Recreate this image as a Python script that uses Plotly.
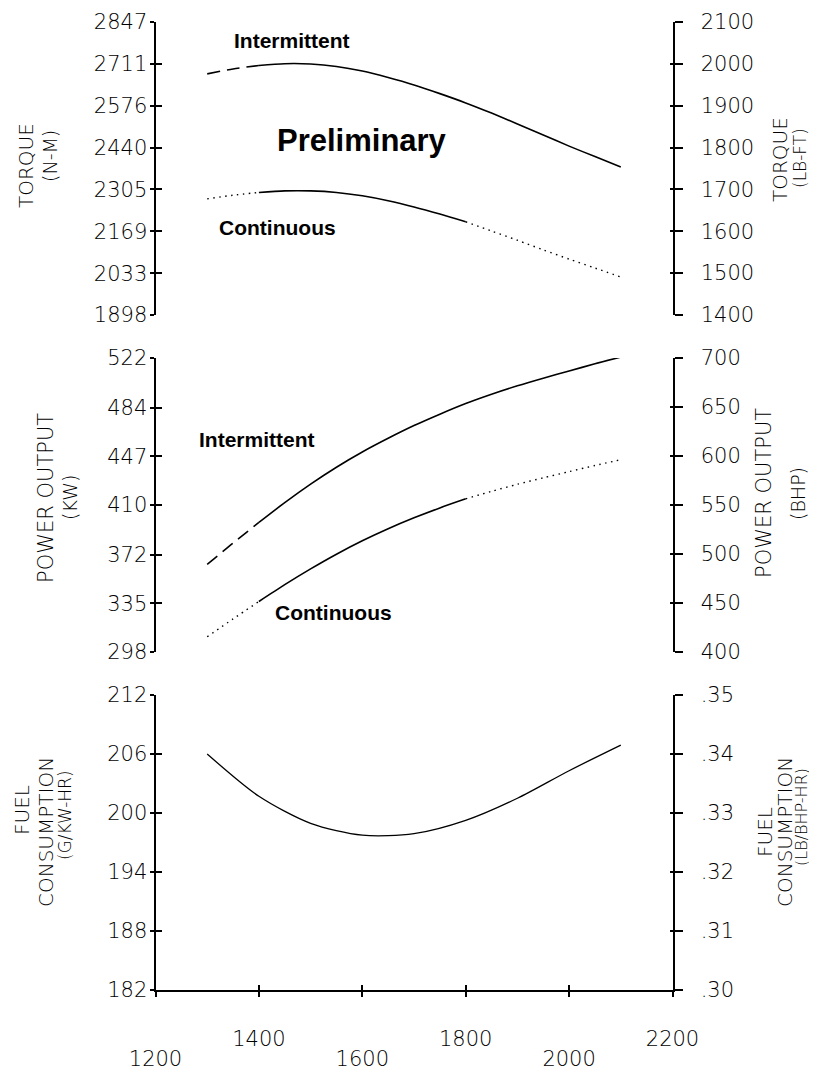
import plotly.graph_objects as go

# ---------------- data ----------------
rpm = [1300, 1350, 1400, 1450, 1500, 1550, 1600, 1650, 1700,
       1750, 1800, 1850, 1900, 1950, 2000, 2050, 2100]

torque_int_nm = [2679, 2695, 2706, 2712, 2711, 2703, 2688, 2667, 2643,
                 2615, 2585, 2552, 2517, 2481, 2445, 2411, 2377]
torque_cont_nm = [2274, 2286, 2295, 2300, 2300, 2295, 2284, 2268, 2248,
                  2225, 2200, 2170, 2140, 2109, 2079, 2050, 2021]

power_int_kw = [364.7, 381.0, 396.7, 411.8, 425.9, 438.8, 450.4, 460.8, 470.5,
                479.2, 487.3, 494.4, 500.8, 506.6, 512.1, 517.6, 522.7]
power_cont_kw = [309.6, 323.2, 336.5, 349.3, 361.3, 372.5, 382.7, 391.9, 400.2,
                 407.8, 414.7, 420.4, 425.8, 430.7, 435.4, 440.1, 444.5]

fuel_rpm = [1300, 1400, 1500, 1600, 1700, 1800, 1900, 2000, 2100]
fuel_g_kwh = [206.0, 201.7, 198.95, 197.75, 197.9, 199.25, 201.5, 204.3, 206.9]

solid_start = 1400      # start of rated (solid) section
cont_solid_end = 1800   # end of solid section for continuous curves

rpm_ticks = [1200, 1400, 1600, 1800, 2000, 2200]
torque_nm_ticks = [1898, 2033, 2169, 2305, 2440, 2576, 2711, 2847]
torque_lbft_ticks = [1400, 1500, 1600, 1700, 1800, 1900, 2000, 2100]
power_kw_ticks = [298, 335, 372, 410, 447, 484, 522]
power_bhp_ticks = [400, 450, 500, 550, 600, 650, 700]
fuel_g_ticks = [182, 188, 194, 200, 206, 212]
fuel_lb_ticks = [0.30, 0.31, 0.32, 0.33, 0.34, 0.35]
fuel_lb_labels = [".30", ".31", ".32", ".33", ".34", ".35"]

# ---------------- geometry helpers ----------------
# the page has an 8px body margin, so the figure is sized/offset to fill the window
OFF = 8
W, H = 817 - OFF, 1072 - OFF
def fx(px):
    return (px - OFF) / W
def fy(py):
    return 1 - (py - OFF) / H

XDOM = [fx(155.5), fx(672.5)]
PANELS = [(22, 315), (358, 652), (695, 990)]
def ydom(i):
    t, b = PANELS[i]
    return [fy(b), fy(t)]

THIN = "DejaVu Sans ExtraLight, DejaVu Sans Light, DejaVu Sans"
TICKFONT = dict(family=THIN, size=21, color="black", weight=200)
DASH_INT = "13px,7px"
DOT = "1.5px,4.5px"

def seg(xs, ys, lo, hi):
    px_, py_ = [], []
    for a, b in zip(xs, ys):
        if lo <= a <= hi:
            px_.append(a)
            py_.append(b)
    return px_, py_

fig = go.Figure()

def add_line(xs, ys, xa, ya, dash="solid", width=1.6):
    fig.add_trace(go.Scatter(x=xs, y=ys, xaxis=xa, yaxis=ya, mode="lines",
                             line=dict(color="black", width=width, dash=dash,
                                       shape="spline", smoothing=0.8),
                             showlegend=False, hoverinfo="skip"))

def add_pair(int_vals, cont_vals, xa, ya):
    x, y = seg(rpm, int_vals, rpm[0], solid_start)
    add_line(x, y, xa, ya, DASH_INT)
    x, y = seg(rpm, int_vals, solid_start, rpm[-1])
    add_line(x, y, xa, ya)
    x, y = seg(rpm, cont_vals, rpm[0], solid_start)
    add_line(x, y, xa, ya, DOT, 1.4)
    x, y = seg(rpm, cont_vals, solid_start, cont_solid_end)
    add_line(x, y, xa, ya)
    x, y = seg(rpm, cont_vals, cont_solid_end, rpm[-1])
    add_line(x, y, xa, ya, DOT, 1.4)

add_pair(torque_int_nm, torque_cont_nm, "x", "y")
add_pair(power_int_kw, power_cont_kw, "x2", "y5")
add_line(fuel_rpm, fuel_g_kwh, "x3", "y9", width=1.3)

# empty traces so every overlay axis is drawn
for xa, ya in [("x", "y2"), ("x", "y3"), ("x", "y4"),
               ("x2", "y6"), ("x2", "y7"), ("x2", "y8"),
               ("x3", "y10"), ("x3", "y11"), ("x3", "y12"), ("x4", "y9")]:
    fig.add_trace(go.Scatter(x=[], y=[], xaxis=xa, yaxis=ya, mode="lines",
                             showlegend=False, hoverinfo="skip"))

layout = dict(
    width=W, height=H,
    margin=dict(l=0, r=0, t=0, b=0, pad=0, autoexpand=False),
    paper_bgcolor="white", plot_bgcolor="rgba(0,0,0,0)",
    showlegend=False,
)

xcommon = dict(range=[1200, 2200], domain=XDOM, showgrid=False, zeroline=False,
               automargin=False)
layout["xaxis"] = dict(xcommon, anchor="y", visible=False)
layout["xaxis2"] = dict(xcommon, anchor="y5", visible=False)
layout["xaxis3"] = dict(xcommon, anchor="y9", showline=True, linecolor="black",
                        linewidth=2, ticks="outside", ticklen=5, tickwidth=2,
                        tickcolor="black", tickvals=rpm_ticks,
                        ticktext=["" if i % 2 == 0 else str(v) for i, v in enumerate(rpm_ticks)],
                        tickfont=TICKFONT, ticklabelstandoff=24)
layout["xaxis4"] = dict(xcommon, anchor="y9", overlaying="x3", showline=False,
                        ticks="inside", ticklen=5, tickwidth=2, tickcolor="black",
                        tickvals=rpm_ticks,
                        ticktext=[str(v) if i % 2 == 0 else "" for i, v in enumerate(rpm_ticks)],
                        tickfont=TICKFONT, ticklabelstandoff=54)

def yaxes(base, panel, xa, lrange, lticks, ltext, rrange, rticks, rtext):
    dom = ydom(panel)
    main = "y" if base == 1 else "y%d" % base
    common = dict(domain=dom, showgrid=False, zeroline=False, anchor=xa,
                  tickcolor="black", tickwidth=2, tickfont=TICKFONT,
                  automargin=False)
    layout["yaxis" if base == 1 else "yaxis%d" % base] = dict(
        common, range=lrange, side="left", showline=True, linecolor="black",
        linewidth=2, ticks="outside", ticklen=4, tickvals=lticks, ticktext=ltext,
        ticklabelstandoff=-2)
    layout["yaxis%d" % (base + 1)] = dict(
        common, range=lrange, side="left", overlaying=main, showline=False,
        ticks="inside", ticklen=6, tickvals=lticks, showticklabels=False)
    layout["yaxis%d" % (base + 2)] = dict(
        common, range=rrange, side="right", overlaying=main, showline=True,
        linecolor="black", linewidth=2, ticks="outside", ticklen=8,
        tickvals=rticks, ticktext=rtext, ticklabelstandoff=14)
    layout["yaxis%d" % (base + 3)] = dict(
        common, range=rrange, side="right", overlaying=main, showline=False,
        ticks="inside", ticklen=3, tickvals=rticks, showticklabels=False)

yaxes(1, 0, "x", [1898, 2847], torque_nm_ticks, [str(v) for v in torque_nm_ticks],
      [1400, 2100], torque_lbft_ticks, [str(v) for v in torque_lbft_ticks])
yaxes(5, 1, "x2", [298, 522], power_kw_ticks, [str(v) for v in power_kw_ticks],
      [400, 700], power_bhp_ticks, [str(v) for v in power_bhp_ticks])
yaxes(9, 2, "x3", [182, 212], fuel_g_ticks, [str(v) for v in fuel_g_ticks],
      [0.30, 0.35], fuel_lb_ticks, fuel_lb_labels)

fig.update_layout(**layout)

# ---------------- annotations ----------------
BOLD = dict(family="Liberation Sans, Arial, sans-serif", size=21, color="black", weight="bold")
def label(text, px, py, size=21):
    fig.add_annotation(text=text, x=fx(px), y=fy(py), xref="paper", yref="paper",
                       showarrow=False, xanchor="center", yanchor="middle",
                       font=dict(BOLD, size=size))

label("Intermittent", 292, 40)
label("Preliminary", 362, 140, 31)
label("Continuous", 277, 228)
label("Intermittent", 257, 439)
label("Continuous", 333, 612)

def vtitle(text, px, py, size):
    fig.add_annotation(text=text, x=fx(px), y=fy(py), xref="paper", yref="paper",
                       showarrow=False, textangle=-90, xanchor="center", yanchor="middle",
                       font=dict(family=THIN, size=size, color="black", weight=200))

vtitle("TORQUE", 26, 166, 20)
vtitle("(N-M)", 50, 156, 19)
vtitle("TORQUE", 780, 160, 20)
vtitle("(LB-FT)", 800, 158, 17)
vtitle("POWER OUTPUT", 46, 498, 21)
vtitle("(KW)", 70, 497, 19)
vtitle("POWER OUTPUT", 764, 493, 21)
vtitle("(BHP)", 798, 494, 19)
vtitle("FUEL", 22, 810, 20)
vtitle("CONSUMPTION", 46, 832, 20)
vtitle("(G/KW-HR)", 65, 815, 17)
vtitle("FUEL", 765, 832, 20)
vtitle("CONSUMPTION", 785, 832, 20)
vtitle("(LB/BHP-HR)", 801, 817, 16)

fig.write_html(
    "out.html",
    post_script="document.documentElement.style.overflow='hidden';"
                "document.body.style.overflow='hidden';",
)
